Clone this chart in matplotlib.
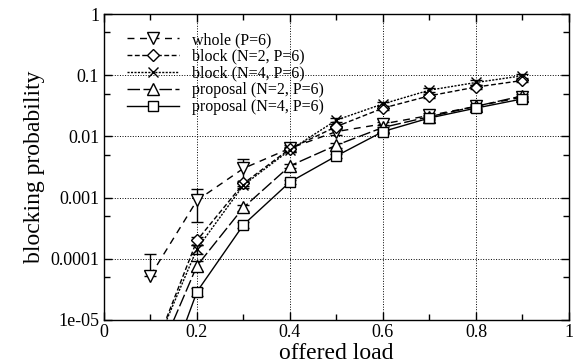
import numpy as np
import matplotlib
matplotlib.use('Agg')
import matplotlib.pyplot as plt
from matplotlib.lines import Line2D
from matplotlib.ticker import FixedLocator, FixedFormatter

plt.rcParams['font.family'] = ['Liberation Serif', 'DejaVu Serif']

# offered load
load = [0.1, 0.2, 0.3, 0.4, 0.5, 0.6, 0.7, 0.8, 0.9]

# blocking probabilities, errors as (lower, upper)
whole = [5.3e-5, 9.0e-4, 3.0e-3, 6.4e-3, 1.2e-2, 1.6e-2, 2.2e-2, 3.1e-2, 4.4e-2]
whole_lo = [0.0, 5.0e-4, 1.2e-3, 8.0e-4, 1.5e-3, 1.5e-3, 1.8e-3, 2.0e-3, 2.5e-3]
whole_hi = [6.7e-5, 5.0e-4, 1.2e-3, 8.0e-4, 1.5e-3, 1.5e-3, 1.8e-3, 2.0e-3, 2.5e-3]

block2 = [2.3e-6, 2.0e-4, 1.7e-3, 6.3e-3, 1.45e-2, 2.9e-2, 4.6e-2, 6.4e-2, 8.2e-2]
block2_err = [3e-7, 3e-5, 1.5e-4, 5e-4, 1.2e-3, 2.5e-3, 4e-3, 5e-3, 6e-3]

block4 = [2.4e-6, 1.45e-4, 1.6e-3, 6.0e-3, 1.85e-2, 3.4e-2, 5.7e-2, 7.6e-2, 9.8e-2]
block4_err = [3e-7, 2.5e-5, 1.5e-4, 5e-4, 1.5e-3, 3e-3, 4e-3, 6e-3, 7e-3]

prop2 = [1.3e-6, 7.7e-5, 6.9e-4, 3.3e-3, 7.2e-3, 1.4e-2, 2.1e-2, 3.1e-2, 4.6e-2]
prop2_err = [2e-7, 1.5e-5, 8e-5, 3e-4, 7e-4, 1.2e-3, 1.6e-3, 2.5e-3, 3.5e-3]

prop4 = [2.5e-7, 2.9e-5, 3.6e-4, 1.8e-3, 4.8e-3, 1.2e-2, 2.0e-2, 2.9e-2, 4.1e-2]
prop4_err = [5e-8, 4e-6, 4e-5, 1.5e-4, 4e-4, 1e-3, 1.5e-3, 2e-3, 3e-3]

labels = ['whole (P=6)', 'block (N=2, P=6)', 'block (N=4, P=6)',
          'proposal (N=2, P=6)', 'proposal (N=4, P=6)']

xticks = [0, 0.2, 0.4, 0.6, 0.8, 1]
xticklabels = ['0', '0.2', '0.4', '0.6', '0.8', '1']
yticks = [1e-5, 1e-4, 1e-3, 1e-2, 1e-1, 1]
yticklabels = ['1e-05', '0.0001', '0.001', '0.01', '0.1', '1']


fig = plt.figure(figsize=(5.73, 3.64), dpi=100)
ax = fig.add_axes([0.1815, 0.121, 0.8115, 0.8405])
ax.set_yscale('log')

series = [
  (whole, [whole_lo, whole_hi], 'v', 8.5, (0, (5, 4))),
  (block2, block2_err, 'D', 6.5, (0, (3.5, 1.8))),
  (block4, block4_err, 'x', 7, (0, (1.5, 1))),
  (prop2, prop2_err, '^', 8.5, (0, (9, 2.5))),
  (prop4, prop4_err, 's', 7, '-'),
]

handles = []
for (y, e, m, ms, ls), lab in zip(series, labels):
  style = dict(color='black', marker=m, markersize=ms, markerfacecolor='white',
               markeredgecolor='black', markeredgewidth=1, linestyle=ls, linewidth=1)
  ax.errorbar(load, y, yerr=e, elinewidth=1, capsize=4.5, capthick=1, **style)
  handles.append(Line2D([], [], label=lab, **style))

ax.set_xlim(0, 1)
ax.set_ylim(1e-5, 1)

ax.xaxis.set_major_locator(FixedLocator(xticks))
ax.xaxis.set_major_formatter(FixedFormatter(xticklabels))
ax.xaxis.set_minor_locator(FixedLocator([0.1, 0.3, 0.5, 0.7, 0.9]))
ax.yaxis.set_major_locator(FixedLocator(yticks))
ax.yaxis.set_major_formatter(FixedFormatter(yticklabels))
ax.yaxis.set_minor_locator(FixedLocator([5e-5, 5e-4, 5e-3, 5e-2, 5e-1]))
ax.yaxis.set_minor_formatter(FixedFormatter([''] * 5))

ax.tick_params(which='both', direction='in', top=True, right=True, labelsize=13, width=1)
ax.tick_params(which='major', length=6)
ax.tick_params(which='minor', length=4)
ax.tick_params(axis='x', pad=3)

ax.grid(True, which='major', color='black', linestyle=':', linewidth=0.7)
for sp in ax.spines.values():
  sp.set_linewidth(1)

ax.set_xlabel('offered load', fontsize=17, labelpad=1)
ax.set_ylabel('blocking probability', fontsize=17, labelpad=4)

leg = ax.legend(handles=handles, loc='upper left', bbox_to_anchor=(0.035, 0.962),
                frameon=False, fontsize=11.5, handlelength=3.3, handletextpad=0.8,
                labelspacing=0.05, borderaxespad=0)

fig.savefig('out.png', dpi=100)
